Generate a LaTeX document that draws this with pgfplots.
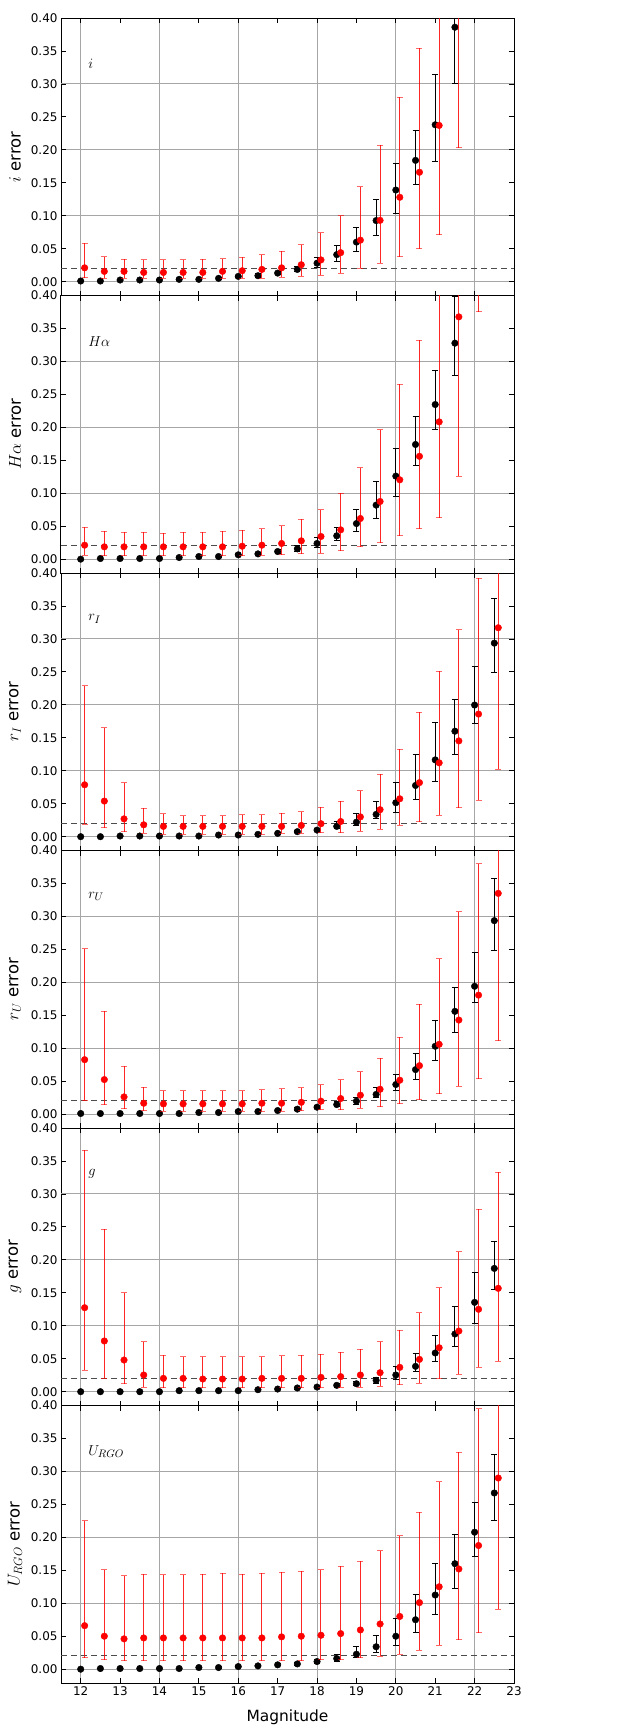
\documentclass[border=0pt]{standalone}
\usepackage{fontspec}
\setmainfont{DejaVu Sans}
\usepackage{pgfplots}
\usepackage{pgfplotstable}
\pgfplotsset{compat=1.18}

% ---------- i ----------
\pgfplotstableread{
m e lo hi
12 0.001 0.0005 0.0015
12.5 0.001 0.0005 0.0015
13 0.0025 0.0015 0.0035
13.5 0.0025 0.0015 0.0035
14 0.0025 0.0015 0.0035
14.5 0.0035 0.0025 0.0045
15 0.0035 0.0025 0.0045
15.5 0.005 0.0035 0.0065
16 0.008 0.006 0.010
16.5 0.009 0.007 0.012
17 0.013 0.011 0.016
17.5 0.0186 0.015 0.023
18 0.028 0.021 0.036
18.5 0.041 0.031 0.055
19 0.060 0.046 0.082
19.5 0.0927 0.070 0.124
20 0.139 0.104 0.179
20.5 0.184 0.147 0.229
21 0.238 0.183 0.314
21.5 0.386 0.301 0.48
}\iblack
\pgfplotstableread{
m e lo hi
12.1 0.021 0.006 0.058
12.6 0.0156 0.005 0.038
13.1 0.0156 0.005 0.034
13.6 0.014 0.005 0.033
14.1 0.014 0.005 0.033
14.6 0.014 0.005 0.033
15.1 0.014 0.005 0.034
15.6 0.0156 0.005 0.035
16.1 0.0166 0.005 0.037
16.6 0.0186 0.005 0.041
17.1 0.021 0.0065 0.046
17.6 0.0257 0.008 0.056
18.1 0.033 0.010 0.074
18.6 0.044 0.0126 0.100
19.1 0.063 0.020 0.144
19.6 0.093 0.028 0.207
20.1 0.128 0.038 0.280
20.6 0.166 0.050 0.354
21.1 0.237 0.0715 0.50
21.6 0.52 0.2035 0.80
}\ired
% ---------- Halpha ----------
\pgfplotstableread{
m e lo hi
12 0.000 0.000 0.000
12.5 0.001 0.0005 0.0015
13 0.001 0.0005 0.0015
13.5 0.001 0.0005 0.0015
14 0.001 0.0005 0.0015
14.5 0.0025 0.0015 0.0035
15 0.004 0.003 0.005
15.5 0.004 0.003 0.005
16 0.0066 0.005 0.008
16.5 0.008 0.006 0.010
17 0.0116 0.009 0.014
17.5 0.0157 0.012 0.020
18 0.0238 0.018 0.033
18.5 0.0354 0.028 0.0485
19 0.054 0.0425 0.075
19.5 0.082 0.062 0.118
20 0.126 0.095 0.168
20.5 0.174 0.1416 0.2165
21 0.2346 0.196 0.2857
21.5 0.3277 0.2786 0.3985
}\hblack
\pgfplotstableread{
m e lo hi
12.1 0.0212 0.006 0.0485
12.6 0.0187 0.005 0.042
13.1 0.0187 0.005 0.041
13.6 0.0187 0.005 0.041
14.1 0.0187 0.005 0.0394
14.6 0.0187 0.005 0.041
15.1 0.0187 0.005 0.041
15.6 0.0187 0.005 0.042
16.1 0.0197 0.005 0.0435
16.6 0.0212 0.006 0.046
17.1 0.0238 0.0066 0.051
17.6 0.0278 0.008 0.0607
18.1 0.0344 0.009 0.075
18.6 0.0445 0.013 0.100
19.1 0.0617 0.0187 0.139
19.6 0.0875 0.025 0.196
20.1 0.1204 0.0354 0.265
20.6 0.156 0.046 0.332
21.1 0.2083 0.0627 0.50
21.6 0.3676 0.126 0.60
22.1 0.55 0.3757 0.80
}\hred
% ---------- r_I ----------
\pgfplotstableread{
m e lo hi
12 0.000 0.000 0.000
12.5 0.000 0.000 0.000
13 0.001 0.0005 0.0015
13.5 0.001 0.0005 0.0015
14 0.001 0.0005 0.0015
14.5 0.001 0.0005 0.0015
15 0.001 0.0005 0.0015
15.5 0.0025 0.0015 0.0035
16 0.0025 0.0015 0.0035
16.5 0.0035 0.0025 0.0045
17 0.005 0.004 0.0065
17.5 0.0076 0.006 0.0095
18 0.010 0.008 0.013
18.5 0.0156 0.012 0.023
19 0.022 0.017 0.035
19.5 0.0338 0.027 0.054
20 0.0515 0.037 0.082
20.5 0.0777 0.057 0.124
21 0.1165 0.084 0.1735
21.5 0.16 0.125 0.2078
22 0.1997 0.172 0.258
22.5 0.2936 0.2487 0.3607
}\rIblack
\pgfplotstableread{
m e lo hi
12.1 0.0787 0.019 0.229
12.6 0.054 0.0136 0.165
13.1 0.027 0.0076 0.082
13.6 0.018 0.005 0.0434
14.1 0.0156 0.004 0.035
14.6 0.0156 0.004 0.032
15.1 0.0156 0.004 0.032
15.6 0.0156 0.004 0.032
16.1 0.0156 0.004 0.0333
16.6 0.0156 0.004 0.0333
17.1 0.0156 0.005 0.0358
17.6 0.017 0.005 0.038
18.1 0.0197 0.006 0.0444
18.6 0.023 0.006 0.054
19.1 0.030 0.0086 0.070
19.6 0.041 0.0116 0.095
20.1 0.0575 0.017 0.133
20.6 0.082 0.023 0.1887
21.1 0.112 0.0328 0.251
21.6 0.1453 0.0439 0.3137
22.1 0.186 0.0555 0.392
22.6 0.317 0.1024 0.55
}\rIred
% ---------- r_U ----------
\pgfplotstableread{
m e lo hi
12 0.001 0.0005 0.0015
12.5 0.001 0.0005 0.0015
13 0.001 0.0005 0.0015
13.5 0.001 0.0005 0.0015
14 0.001 0.0005 0.0015
14.5 0.001 0.0005 0.0015
15 0.0025 0.0015 0.0035
15.5 0.0025 0.0015 0.0035
16 0.004 0.003 0.005
16.5 0.004 0.003 0.005
17 0.0055 0.004 0.007
17.5 0.0076 0.006 0.0095
18 0.0106 0.008 0.013
18.5 0.0146 0.011 0.019
19 0.0197 0.015 0.026
19.5 0.030 0.025 0.040
20 0.045 0.036 0.0605
20.5 0.0676 0.0525 0.0913
21 0.103 0.0817 0.1427
21.5 0.156 0.1246 0.192
22 0.194 0.17 0.2446
22.5 0.2936 0.249 0.3576
}\rUblack
\pgfplotstableread{
m e lo hi
12.1 0.0827 0.0207 0.2507
12.6 0.0525 0.014 0.1564
13.1 0.0262 0.008 0.0726
13.6 0.0166 0.0055 0.041
14.1 0.0156 0.0045 0.0353
14.6 0.0156 0.0045 0.0353
15.1 0.0156 0.0045 0.0353
15.6 0.0156 0.0045 0.0353
16.1 0.0156 0.0045 0.0353
16.6 0.0166 0.0045 0.0368
17.1 0.0166 0.0045 0.0383
17.6 0.018 0.0055 0.040
18.1 0.0197 0.0066 0.0444
18.6 0.0237 0.0066 0.052
19.1 0.0288 0.009 0.0646
19.6 0.0378 0.0116 0.0852
20.1 0.0515 0.016 0.117
20.6 0.0736 0.022 0.167
21.1 0.106 0.031 0.2356
21.6 0.1428 0.042 0.307
22.1 0.1806 0.054 0.380
22.6 0.335 0.1115 0.56
}\rUred
% ---------- g ----------
\pgfplotstableread{
m e lo hi
12 0.000 0.000 0.000
12.5 0.000 0.000 0.000
13 0.000 0.000 0.000
13.5 0.000 0.000 0.000
14 0.000 0.000 0.000
14.5 0.0015 0.001 0.002
15 0.0015 0.001 0.002
15.5 0.0015 0.001 0.002
16 0.0015 0.001 0.002
16.5 0.003 0.002 0.004
17 0.004 0.003 0.005
17.5 0.0056 0.004 0.007
18 0.007 0.005 0.009
18.5 0.0096 0.007 0.012
19 0.012 0.009 0.015
19.5 0.0172 0.013 0.022
20 0.0253 0.019 0.038
20.5 0.0384 0.030 0.058
21 0.0587 0.0455 0.085
21.5 0.0875 0.0678 0.129
22 0.1355 0.104 0.181
22.5 0.187 0.1557 0.228
}\gblack
\pgfplotstableread{
m e lo hi
12.1 0.1274 0.0324 0.3666
12.6 0.0769 0.020 0.2463
13.1 0.048 0.012 0.150
13.6 0.0253 0.007 0.0759
14.1 0.0202 0.0056 0.0556
14.6 0.0202 0.0056 0.053
15.1 0.0192 0.0056 0.053
15.6 0.0192 0.0056 0.053
16.1 0.0192 0.0056 0.053
16.6 0.0202 0.0056 0.053
17.1 0.0202 0.0056 0.0546
17.6 0.0202 0.0056 0.0556
18.1 0.0217 0.0056 0.057
18.6 0.0228 0.007 0.0597
19.1 0.0253 0.007 0.0647
19.6 0.0288 0.0086 0.0759
20.1 0.0369 0.0106 0.093
20.6 0.049 0.013 0.120
21.1 0.0667 0.0197 0.158
21.6 0.092 0.0263 0.2124
22.1 0.125 0.0374 0.2766
22.6 0.1568 0.0465 0.3327
}\gred
% ---------- U_RGO ----------
\pgfplotstableread{
m e lo hi
12 0.000 0.000 0.000
12.5 0.001 0.0005 0.0015
13 0.001 0.0005 0.0015
13.5 0.001 0.0005 0.0015
14 0.001 0.0005 0.0015
14.5 0.001 0.0005 0.0015
15 0.0025 0.0015 0.0035
15.5 0.0025 0.0015 0.0035
16 0.004 0.003 0.005
16.5 0.005 0.004 0.0065
17 0.0066 0.005 0.008
17.5 0.008 0.006 0.010
18 0.0116 0.009 0.015
18.5 0.0161 0.012 0.0217
19 0.0227 0.017 0.034
19.5 0.034 0.0247 0.0515
20 0.050 0.0363 0.0772
20.5 0.075 0.0555 0.114
21 0.1125 0.0832 0.160
21.5 0.16 0.1226 0.2038
22 0.2078 0.1715 0.2522
22.5 0.2673 0.2255 0.3253
}\ublack
\pgfplotstableread{
m e lo hi
12.1 0.066 0.0172 0.225
12.6 0.050 0.0146 0.1508
13.1 0.046 0.013 0.1417
13.6 0.0474 0.013 0.1443
14.1 0.0474 0.013 0.1432
14.6 0.0474 0.013 0.1432
15.1 0.0474 0.013 0.1443
15.6 0.0474 0.013 0.1458
16.1 0.0474 0.013 0.1443
16.6 0.0474 0.013 0.1458
17.1 0.049 0.013 0.1468
17.6 0.050 0.013 0.1483
18.1 0.0515 0.0146 0.1508
18.6 0.054 0.0146 0.156
19.1 0.0595 0.0172 0.164
19.6 0.0686 0.0197 0.1796
20.1 0.080 0.023 0.2023
20.6 0.101 0.0288 0.238
21.1 0.125 0.0363 0.2845
21.6 0.152 0.045 0.329
22.1 0.1876 0.0555 0.395
22.6 0.290 0.0908 0.55
}\ured

\pgfplotsset{
  panel/.style={
    scale only axis, width=453bp, height=277.5bp, anchor=north west,
    xmin=11.5, xmax=23, ymin=-0.021, ymax=0.40,
    xtick={12,13,14,15,16,17,18,19,20,21,22,23},
    ytick={0,0.05,0.1,0.15,0.2,0.25,0.3,0.35,0.4},
    extra x ticks={12,14,16,18,20,22}, extra x tick labels={},
    extra y ticks={0,0.1,0.2,0.3}, extra y tick labels={},
    extra x tick style={grid=major}, extra y tick style={grid=major},
    major grid style={black!35, line width=0.9bp},
    scaled y ticks=false,
    /pgf/number format/assume math mode=true,
    yticklabel style={/pgf/number format/.cd, fixed, fixed zerofill, precision=2},
    tick label style={font=\fontsize{12}{14}\selectfont, black},
    tick align=inside, major tick length=5bp,
    tick style={black, line width=0.8bp},
    axis line style={black, line width=1bp},
    every axis y label/.style={at={(axis description cs:-0.1015,0.5)}, rotate=90, anchor=center, font=\fontsize{16.5}{19}\selectfont},
    every axis x label/.style={at={(axis description cs:0.5,-0.1225)}, anchor=center, font=\fontsize{15.5}{18}\selectfont},
    clip marker paths=true,
  },
  blk/.style={only marks, mark=*, mark size=3.3bp, black, mark options={fill=black, draw=black},
    error bars/.cd, y dir=both, y explicit,
    error bar style={line width=1bp, black},
    error mark options={rotate=90, black, mark size=3bp, line width=1bp}},
  rd/.style={only marks, mark=*, mark size=3.3bp, red, mark options={fill=red, draw=red},
    error bars/.cd, y dir=both, y explicit,
    error bar style={line width=1bp, red, opacity=0.85},
    error mark options={rotate=90, red, opacity=0.6, mark size=3bp, line width=1bp}},
  dashline/.style={black!70, dash pattern=on 6bp off 4bp, line width=1bp},
}
\newcommand{\plotpair}[2]{%
  \addplot[dashline] coordinates {(11.5,0.02) (23,0.02)};
  \addplot[blk] table[x=m, y=e, y error plus expr=\thisrow{hi}-\thisrow{e}, y error minus expr=\thisrow{e}-\thisrow{lo}] {#1};
  \addplot[rd] table[x=m, y=e, y error plus expr=\thisrow{hi}-\thisrow{e}, y error minus expr=\thisrow{e}-\thisrow{lo}] {#2};
}
\newcommand{\plabel}[1]{\node[anchor=west, inner sep=0pt, font=\fontsize{15}{18}\selectfont] at (axis cs:12.19,0.33) {#1};}

\begin{document}
\begin{tikzpicture}
\path[use as bounding box] (0bp,0bp) rectangle (622bp,-1727bp);

\begin{axis}[panel, at={(61bp,-18bp)}, xticklabels={}, ylabel={$i$ error}]
\plotpair{\iblack}{\ired}
\plabel{$i$}
\end{axis}

\begin{axis}[panel, at={(61bp,-295.5bp)}, xticklabels={}, ylabel={$H\alpha$ error}]
\plotpair{\hblack}{\hred}
\plabel{$H\alpha$}
\end{axis}

\begin{axis}[panel, at={(61bp,-573bp)}, xticklabels={}, ylabel={$r_I$ error}]
\plotpair{\rIblack}{\rIred}
\plabel{$r_I$}
\end{axis}

\begin{axis}[panel, at={(61bp,-850.5bp)}, xticklabels={}, ylabel={$r_U$ error}]
\plotpair{\rUblack}{\rUred}
\plabel{$r_U$}
\end{axis}

\begin{axis}[panel, at={(61bp,-1128bp)}, xticklabels={}, ylabel={$g$ error}]
\plotpair{\gblack}{\gred}
\plabel{$g$}
\end{axis}

\begin{axis}[panel, at={(61bp,-1405.5bp)}, ylabel={$U_{RGO}$ error}, xlabel={Magnitude}]
\plotpair{\ublack}{\ured}
\plabel{$U_{RGO}$}
\end{axis}
\end{tikzpicture}
\end{document}
